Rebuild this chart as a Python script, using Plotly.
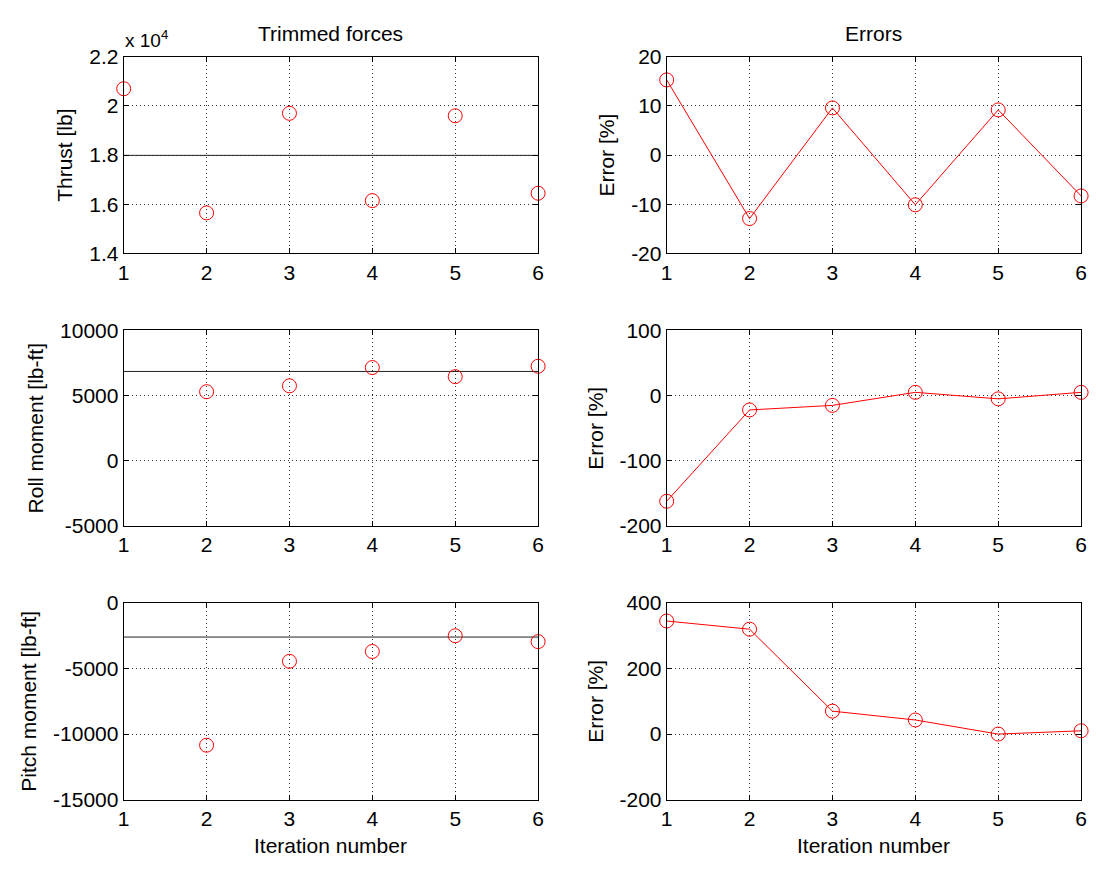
import plotly.graph_objects as go

iterations = [1, 2, 3, 4, 5, 6]

thrust = [20700, 15650, 19700, 16150, 19600, 16450]
thrust_ref = 17990
thrust_err = [15.3, -12.9, 9.6, -10.1, 9.2, -8.3]

roll = [None, 5300, 5750, 7150, 6450, 7250]
roll_ref = 6850
roll_err = [-162, -22, -15, 5, -5, 5]

pitch = [None, -10850, -4450, -3700, -2500, -2950]
pitch_ref = -2600
pitch_err = [345, 320, 70, 43, 0, 10]

thrust_ticks = [14000, 16000, 18000, 20000, 22000]
thrust_ticktext = ["1.4", "1.6", "1.8", "2", "2.2"]
roll_ticks = [-5000, 0, 5000, 10000]
pitch_ticks = [-15000, -10000, -5000, 0]
err1_ticks = [-20, -10, 0, 10, 20]
err2_ticks = [-200, -100, 0, 100]
err3_ticks = [-200, 0, 200, 400]

W, H = 1096, 871
FONT = "Liberation Sans, Arial, sans-serif"
FS = 21

def px_x(a, b):
    return [a / W, b / W]

def px_y(top, bottom):
    return [1 - bottom / H, 1 - top / H]

left_dom = px_x(119, 538)
right_dom = px_x(668, 1087)
row_doms = [px_y(46, 248), px_y(327, 528), px_y(607, 809)]

def lbl(vals):
    return [str(v) for v in vals]

fig = go.Figure()

axis_common = dict(
    showline=True, linecolor="black", linewidth=1, mirror="ticks",
    ticks="inside", ticklen=5, tickcolor="black",
    showgrid=True, gridcolor="#333333", gridwidth=1, griddash="1px,3px",
    zeroline=False, tickfont=dict(family=FONT, size=FS, color="black"),
)

left_vals = [thrust, roll, pitch]
left_refs = [thrust_ref, roll_ref, pitch_ref]
right_vals = [thrust_err, roll_err, pitch_err]
left_titles = ["Thrust [lb]", "Roll moment [lb-ft]", "Pitch moment [lb-ft]"]
left_ranges = [[14000, 22000], [-5000, 10000], [-15000, 0]]
left_ticks = [(thrust_ticks, thrust_ticktext), (roll_ticks, lbl(roll_ticks)), (pitch_ticks, lbl(pitch_ticks))]
right_ranges = [[-20, 20], [-200, 100], [-200, 400]]
right_ticks = [err1_ticks, err2_ticks, err3_ticks]

title_font = dict(family=FONT, size=FS, color="black")

layout = {}
for r in range(3):
    for c in range(2):
        idx = r * 2 + c + 1
        xa = "x" if idx == 1 else f"x{idx}"
        ya = "y" if idx == 1 else f"y{idx}"
        xkey = "xaxis" if idx == 1 else f"xaxis{idx}"
        ykey = "yaxis" if idx == 1 else f"yaxis{idx}"
        xd = dict(axis_common, domain=left_dom if c == 0 else right_dom,
                  anchor=ya, range=[1, 6], tickvals=iterations, ticktext=lbl(iterations))
        yd = dict(axis_common, domain=row_doms[r], anchor=xa)
        if c == 0:
            yd["range"] = left_ranges[r]
            yd["tickvals"] = left_ticks[r][0]
            yd["ticktext"] = left_ticks[r][1]
            yd["title"] = dict(text=left_titles[r], font=title_font, standoff=10)
            fig.add_trace(go.Scatter(
                x=[iterations[0], iterations[-1]], y=[left_refs[r]] * 2, mode="lines",
                line=dict(color="#222222", width=1), xaxis=xa, yaxis=ya, showlegend=False))
            fig.add_trace(go.Scatter(
                x=iterations, y=left_vals[r], mode="markers", cliponaxis=False,
                marker=dict(symbol="circle-open", size=14, color="red", line=dict(width=1, color="red")),
                xaxis=xa, yaxis=ya, showlegend=False))
        else:
            yd["range"] = right_ranges[r]
            yd["tickvals"] = right_ticks[r]
            yd["ticktext"] = lbl(right_ticks[r])
            yd["title"] = dict(text="Error [%]", font=title_font, standoff=10)
            fig.add_trace(go.Scatter(
                x=iterations, y=right_vals[r], mode="lines+markers", cliponaxis=False,
                line=dict(color="red", width=1),
                marker=dict(symbol="circle-open", size=14, color="red", line=dict(width=1, color="red")),
                xaxis=xa, yaxis=ya, showlegend=False))
        layout[xkey] = xd
        layout[ykey] = yd

fig.update_layout(**layout)

def ann(text, x, ypx, **kw):
    d = dict(text=text, x=x, y=1 - ypx / H, xref="paper", yref="paper",
             xanchor="center", yanchor="middle", showarrow=False, font=title_font)
    d.update(kw)
    return d

fig.update_layout(
    width=W, height=H, margin=dict(l=0, r=0, t=0, b=0),
    paper_bgcolor="white", plot_bgcolor="white",
    font=dict(family=FONT, size=FS, color="black"),
    annotations=[
        ann("Trimmed forces", (left_dom[0] + left_dom[1]) / 2, 22),
        ann("Errors", (right_dom[0] + right_dom[1]) / 2, 22),
        ann("Iteration number", (left_dom[0] + left_dom[1]) / 2, 856),
        ann("Iteration number", (right_dom[0] + right_dom[1]) / 2, 856),
        ann("x 10<sup>4</sup>", left_dom[0] - 1 / W, 28, xanchor="left",
            font=dict(family=FONT, size=19, color="black")),
    ],
)

fig.write_html("out.html")
